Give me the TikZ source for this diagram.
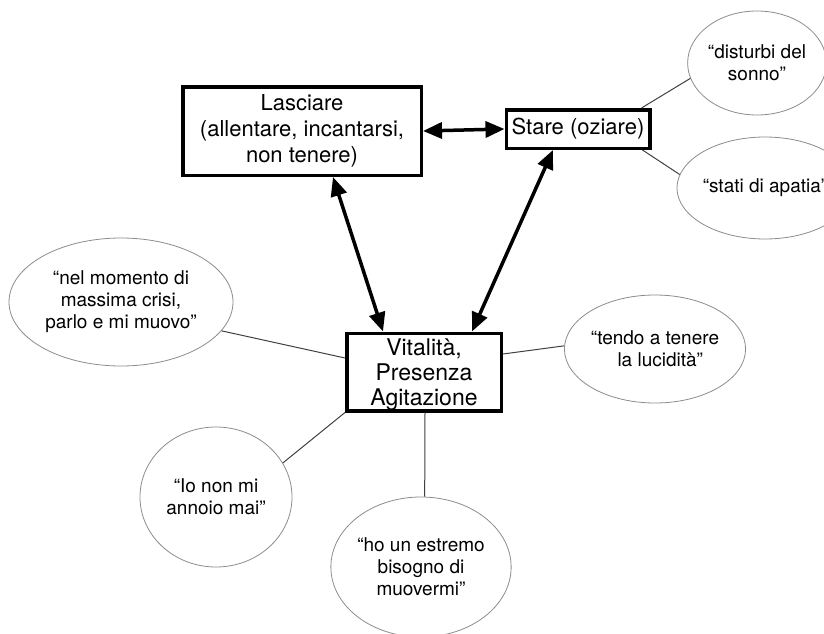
\documentclass[tikz,border=0pt]{standalone}
\usepackage{fontspec}
\setmainfont{TeX Gyre Heros}
\usetikzlibrary{shapes.geometric,arrows.meta,calc}

\tikzset{
  stepbox/.style={draw=black, line width=3.5pt, fill=white, align=center,
    font=\fontsize{22}{26}\selectfont, inner sep=0pt},
  quote/.style={ellipse, draw=black!45, line width=0.8pt, fill=white, align=center,
    font=\fontsize{19}{22}\selectfont, inner sep=0pt},
  link/.style={draw=black!75, line width=1pt},
  bothway/.style={line width=3.5pt, {Triangle[length=19pt,width=16pt]}-{Triangle[length=19pt,width=16pt]}},
}

\begin{document}
\begin{tikzpicture}[x=1pt,y=-1pt]
\useasboundingbox (0,0) rectangle (824,634);
\clip (0,0) rectangle (824,634);

% main states
\node[stepbox, minimum width=238.5pt, minimum height=88.5pt] (las) at (302,131)
  {Lasciare\\(allentare, incantarsi,\\non tenere)};
\node[stepbox, minimum width=143.5pt, minimum height=38.5pt] (sta) at (578,129)
  {Stare (oziare)};
\node[stepbox, minimum width=154.5pt, minimum height=77.5pt] (vit) at (424,372) {};
\node[align=center, font=\fontsize{23}{25}\selectfont, inner sep=0pt] (vittext)
  at ($(vit.center)+(0,3)$) {Vitalità,\\Presenza\\Agitazione};

% quotes
\node[quote, minimum width=134pt, minimum height=104pt] (dis) at (757,63)
  {“disturbi del\\sonno”};
\node[quote, minimum width=140pt, minimum height=102pt] (apa) at (765,188)
  {“stati di apatia”};
\node[quote, minimum width=224pt, minimum height=128pt] (nel) at (121,302)
  {“nel momento di\\massima crisi,\\parlo e mi muovo”};
\node[quote, minimum width=144pt, minimum height=108pt] (ten) at (655,349)
  {“tendo a tenere\\\ \ la lucidità”};
\node[quote, minimum width=152pt, minimum height=140pt] (ion) at (216,497)
  {“Io non mi\\annoio mai”};
\node[quote, minimum width=164pt, minimum height=140pt] (hou) at (421,567)
  {“ho un estremo\\bisogno di\\muovermi”};

% thin links from states to quotes
\draw[link] ($(sta.north east)+(-10,0)$) -- (dis.193);
\draw[link] ($(sta.south east)+(-9,0)$) -- (apa.171);
\draw[link] ($(vit.west)+(0,-14)$) -- (nel.-16);
\draw[link] ($(vit.east)+(0,-18)$) -- (ten.178);
\draw[link] (vit.south west) -- (ion.27);
\draw[link] ($(vit.south)+(1,0)$) -- (hou.87);

% thick two-way arrows between states
\draw[bothway] (las.east) -- (sta.west);
\draw[bothway] ($(las.south)+(31,0)$) -- ($(vit.north)+(-41,0)$);
\draw[bothway] ($(sta.south)+(-25,0)$) -- ($(vit.north)+(48,0)$);
\end{tikzpicture}
\end{document}
